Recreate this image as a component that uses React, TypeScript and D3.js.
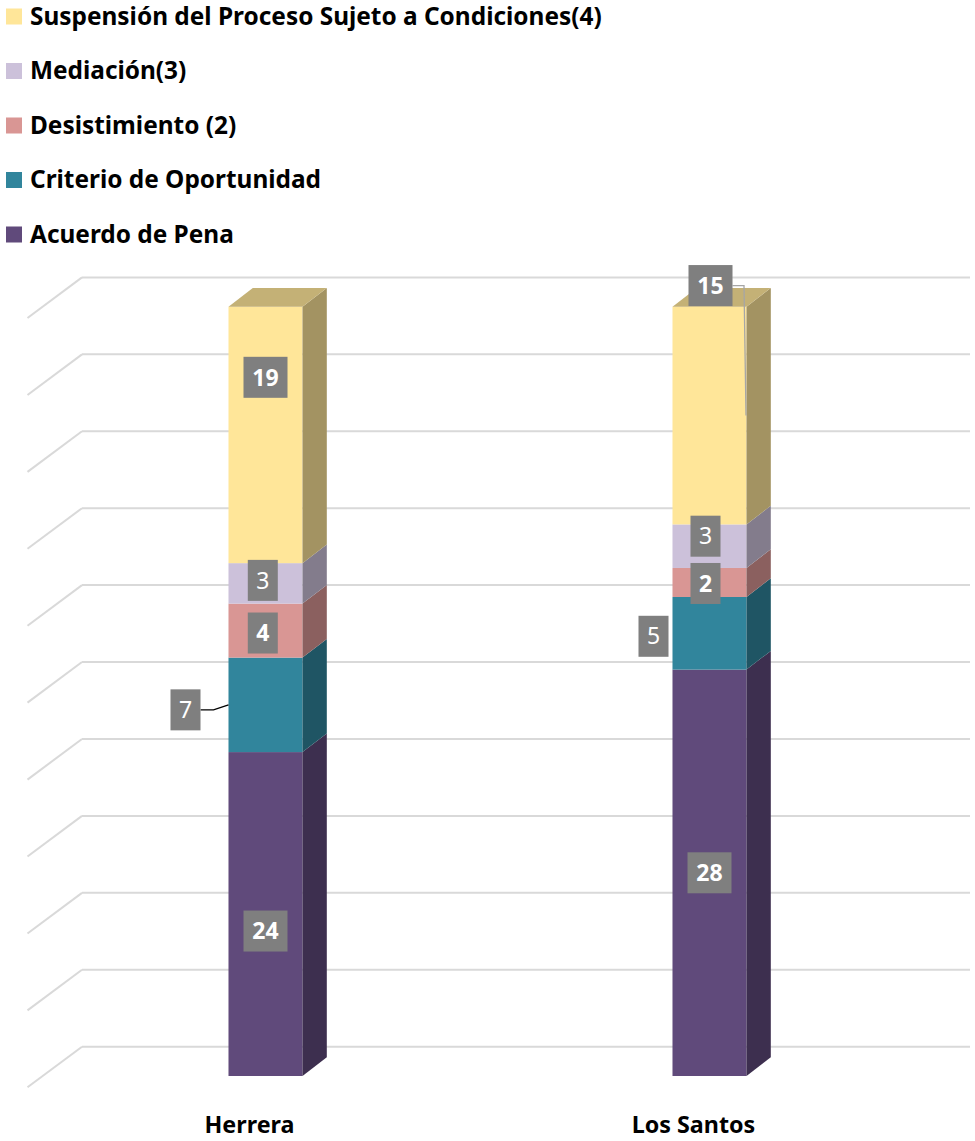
import React from "react";
import * as d3 from "d3";

// ---------- data ----------
const categories = ["Herrera", "Los Santos"];
const seriesNames = [
  "Acuerdo de Pena",
  "Criterio de Oportunidad",
  "Desistimiento (2)",
  "Mediación(3)",
  "Suspensión del Proceso Sujeto a Condiciones(4)",
];
const acuerdoDePena = [24, 28];
const criterioDeOportunidad = [7, 5];
const desistimiento = [4, 2];
const mediacion = [3, 3];
const suspension = [19, 15];
const seriesValues = [acuerdoDePena, criterioDeOportunidad, desistimiento, mediacion, suspension];
const seriesColors = ["#604A7B", "#31859C", "#D99694", "#CCC1DA", "#FFE699"];
const labelBold = [true, false, true, false, true];
// legend lists series top-down in reverse order
const legendOrder = [4, 3, 2, 1, 0];

// ---------- layout config (not data) ----------
const W = 975;
const H = 1141;
const FONT = "'Noto Sans', 'Open Sans', sans-serif";
const barDepth = { dx: 24.3, dy: -18.7 };
const wallOffset = { dx: 38.5, dy: -29.3 }; // back wall relative to bar front plane
const floorFront = { dx: -16, dy: 11.3 }; // front floor edge relative to bar front plane
// label nudges [series][category]
const labelNudge = [
  [{ dx: 0, dy: 17 }, { dx: 0, dy: 0 }],
  [{ dx: -80, dy: 5, leader: "left", color: "#000000" }, { dx: -56, dy: 3 }],
  [{ dx: -2.7, dy: 2.4 }, { dx: -4, dy: 1 }],
  [{ dx: -2.7, dy: -3 }, { dx: -4, dy: -10 }],
  [{ dx: 0, dy: -57.6 }, { dx: 1, dy: -130, leader: "top", color: "#A6A6A6" }],
];

const shade = (c: string, k: number) => {
  const r = d3.rgb(c);
  return d3.rgb(r.r * k, r.g * k, r.b * k).formatHex();
};

export default function App() {
  const x = d3.scaleBand<string>().domain(categories).range([43.5, 931.5]).padding(0);
  const barW = x.bandwidth() * 0.1667;
  const y = d3.scaleLinear().domain([0, 1]).range([1076, 306.7]);
  const totals = categories.map((_, ci) => d3.sum(seriesValues, (s) => s[ci]));
  const ticks = y.ticks(10);

  const wallLeft = 82;
  const wallRight = 970;

  const grid = ticks.map((t) => {
    const yw = y(t) + wallOffset.dy;
    return (
      <g key={"g" + t}>
        <line x1={wallLeft} x2={wallRight} y1={yw} y2={yw} stroke="#D9D9D9" strokeWidth={2} />
        <line
          x1={wallLeft}
          y1={yw}
          x2={wallLeft - (wallOffset.dx - floorFront.dx)}
          y2={yw - (wallOffset.dy - floorFront.dy)}
          stroke="#D9D9D9"
          strokeWidth={2}
        />
      </g>
    );
  });

  const bars: React.ReactNode[] = [];
  const labels: React.ReactNode[] = [];
  categories.forEach((cat, ci) => {
    const cx = (x(cat) as number) + x.bandwidth() / 2;
    const x0 = cx - barW / 2;
    const x1 = cx + barW / 2;
    let cum = 0;
    seriesValues.forEach((s, si) => {
      const v = s[ci];
      const p0 = cum / totals[ci];
      const p1 = (cum + v) / totals[ci];
      cum += v;
      const yb = y(p0);
      const yt = y(p1);
      const col = seriesColors[si];
      bars.push(
        <g key={`b${ci}-${si}`}>
          <rect x={x0} y={yt} width={barW} height={yb - yt} fill={col} />
          <polygon
            points={`${x1},${yb} ${x1},${yt} ${x1 + barDepth.dx},${yt + barDepth.dy} ${x1 + barDepth.dx},${yb + barDepth.dy}`}
            fill={shade(col, 0.64)}
          />
          {si === seriesValues.length - 1 && (
            <polygon
              points={`${x0},${yt} ${x1},${yt} ${x1 + barDepth.dx},${yt + barDepth.dy} ${x0 + barDepth.dx},${yt + barDepth.dy}`}
              fill={shade(col, 0.77)}
            />
          )}
        </g>
      );
      const nudge: any = labelNudge[si][ci];
      const segC = (yb + yt) / 2;
      const lx = cx + nudge.dx;
      const ly = segC + nudge.dy;
      const txt = String(v);
      const bw = 16 + 14 * txt.length;
      const bh = 41;
      if (nudge.leader === "left") {
        const sx = lx + bw / 2;
        labels.push(
          <polyline
            key={`l${ci}-${si}`}
            points={`${sx},${ly} ${sx + 13},${ly} ${x0},${segC}`}
            fill="none"
            stroke={nudge.color}
            strokeWidth={1.3}
          />
        );
      } else if (nudge.leader === "top") {
        const sx = lx + bw / 2;
        labels.push(
          <polyline
            key={`l${ci}-${si}`}
            points={`${sx},${ly} ${x1 - 2.5},${ly} ${x1 - 0.5},${segC}`}
            fill="none"
            stroke={nudge.color}
            strokeWidth={1.3}
          />
        );
      }
      labels.push(
        <g key={`t${ci}-${si}`}>
          <rect x={lx - bw / 2} y={ly - bh / 2} width={bw} height={bh} fill="#7F7F7F" />
          <text
            x={lx}
            y={ly + 8.2}
            textAnchor="middle"
            fill="#FFFFFF"
            fontFamily={FONT}
            fontSize={23}
            fontWeight={labelBold[si] ? 700 : 400}
          >
            {txt}
          </text>
        </g>
      );
    });
  });

  const catLabels = categories.map((cat) => {
    const cx = (x(cat) as number) + x.bandwidth() / 2 + floorFront.dx;
    return (
      <text
        key={"c" + cat}
        x={cx}
        y={1133}
        textAnchor="middle"
        fontFamily={FONT}
        fontWeight={700}
        fontSize={23.3}
        fill="#000000"
      >
        {cat}
      </text>
    );
  });

  const legend = legendOrder.map((si, i) => {
    const cy = 16.5 + i * 54.5;
    return (
      <g key={"lg" + si}>
        <rect x={6} y={cy - 8} width={16} height={16} fill={seriesColors[si]} />
        <text x={30} y={cy + 8.4} fontFamily={FONT} fontWeight={700} fontSize={24.4} fill="#000000">
          {seriesNames[si]}
        </text>
      </g>
    );
  });

  return (
    <svg
      width={W}
      height={H}
      viewBox={`0 0 ${W} ${H}`}
      style={{ position: "absolute", left: 0, top: 0, background: "#FFFFFF" }}
    >
      <rect width={W} height={H} fill="#FFFFFF" />
      {grid}
      {bars}
      {labels}
      {catLabels}
      {legend}
    </svg>
  );
}
